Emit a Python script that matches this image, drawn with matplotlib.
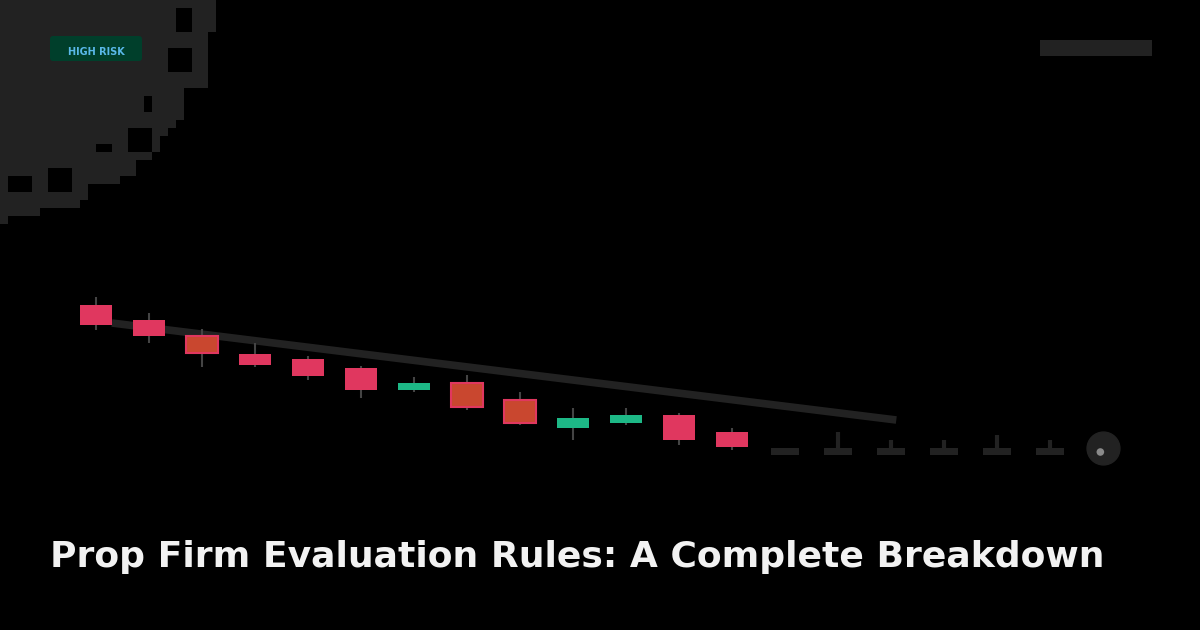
import matplotlib.pyplot as plt
import numpy as np
from matplotlib.patches import Rectangle, FancyBboxPatch

# candle data (price units), one entry per candle slot
opens  = [175, 160, 144, 126, 121, 112, 90, 97, 80, 52, 57, 65, 48]
closes = [155, 144, 127, 115, 104,  90, 97, 73, 57, 62, 65, 40, 33]
highs  = [183, 167, 151, 137, 124, 114, 103, 105, 88, 72, 72, 67, 52]
lows   = [150, 137, 113, 113, 100,  82, 88, 70, 55, 40, 55, 35, 30]
body_tone = ['pink', 'pink', 'orange', 'pink', 'pink', 'pink', 'green',
             'orange', 'orange', 'green', 'green', 'pink', 'pink']

# faded "future" candles after the last real one
ghost_open = [32, 32, 32, 32, 32, 32]
ghost_close = [25, 25, 25, 25, 25, 25]
ghost_high = [32, 48, 40, 40, 45, 40]
marker_price = 32

trend_x = [0.3, 15.1]
trend_y = [157, 60]

title = "Prop Firm Evaluation Rules: A Complete Breakdown"
badge = "HIGH RISK"

colors = {'pink': '#e0375f', 'orange': '#c9472f', 'green': '#1db886'}

fig = plt.figure(figsize=(12, 6.3), dpi=100, facecolor='black')

# background / decoration layer in pixel coords
bg = fig.add_axes([0, 0, 1, 1])
bg.set_xlim(0, 1200)
bg.set_ylim(630, 0)
bg.axis('off')
bg.set_facecolor('black')

# pixel grid in top-left corner
cell = 8
limits = [27, 27, 27, 27, 26, 26, 26, 26, 26, 26, 26, 23, 23, 23, 23, 22,
          21, 20, 20, 19, 17, 17, 15, 11, 11, 10, 5, 1]
grid = np.zeros((len(limits), 28))
for r, lim in enumerate(limits):
    grid[r, :lim] = 1
holes = [(1, 4, 22, 24), (6, 9, 21, 24), (16, 19, 16, 19), (12, 14, 18, 19),
         (18, 19, 12, 14), (21, 22, 19, 21), (21, 24, 6, 9), (22, 24, 1, 4)]
for r0, r1, c0, c1 in holes:
    grid[r0:r1, c0:c1] = 0
rgba = np.zeros(grid.shape + (4,))
rgba[..., :3] = 0x22 / 255
rgba[..., 3] = grid
bg.imshow(rgba, extent=(0, 28 * cell, len(limits) * cell, 0),
          interpolation='nearest', zorder=1)

# badge
bg.add_patch(FancyBboxPatch((50, 36), 92, 25, boxstyle='round,pad=0,rounding_size=3',
                            fc='#003f2b', ec='none', zorder=2))
bg.text(96, 52, badge, color='#5ab8e8', fontsize=7, fontweight='bold',
        ha='center', va='center', zorder=3)

# logo placeholder top right
bg.add_patch(Rectangle((1040, 40), 112, 16, fc='#222222', ec='none', zorder=2))

# title
bg.text(50, 567, title, color='#f2f2f2', fontsize=26, fontweight='bold',
        ha='left', va='baseline', zorder=3)

# chart layer
ax = fig.add_axes([0, 0, 1, 1])
ax.patch.set_alpha(0)
ax.axis('off')
ax.set_xlim(-96 / 53, (1200 - 96) / 53)
ax.set_ylim(480 - 630, 480)

ax.plot(trend_x, trend_y, color='#222222', lw=5.5, solid_capstyle='butt', zorder=1)

w = 0.6
for i, (o, c, h, l, t) in enumerate(zip(opens, closes, highs, lows, body_tone)):
    ax.vlines(i, l, h, color='#444444', lw=1.5, zorder=2)
    lo, hi = min(o, c), max(o, c)
    ax.add_patch(Rectangle((i - w / 2, lo), w, max(hi - lo, 2), fc=colors[t],
                           ec=colors['pink'] if t == 'orange' else 'none',
                           lw=1.5, zorder=3))

n = len(opens)
for j, (o, c, h) in enumerate(zip(ghost_open, ghost_close, ghost_high)):
    i = n + j
    ax.vlines(i, c, h, color='#222222', lw=3, zorder=2)
    ax.add_patch(Rectangle((i - 0.27, c), 0.54, o - c, fc='#222222', ec='none', zorder=3))

last = n + len(ghost_open)
ax.scatter([last], [marker_price], s=560, color='#222222', zorder=3)
ax.scatter([last - 0.05], [marker_price - 4], s=30, marker='o', color='#8a8a8a',
           edgecolors='none', zorder=4)

fig.savefig('out.png', dpi=100, facecolor='black')
